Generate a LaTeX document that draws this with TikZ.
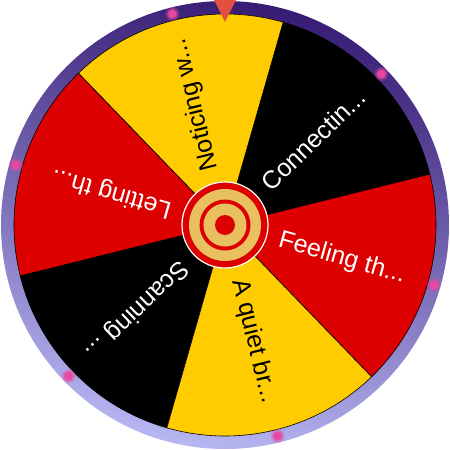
\documentclass[tikz,border=0pt]{standalone}
\usepackage{fontspec}
\setmainfont{Liberation Sans}
\usepackage{tikz}
\usetikzlibrary{calc}
\definecolor{wheelred}{RGB}{220,0,0}
\definecolor{wheelyellow}{RGB}{255,204,0}
\definecolor{rimdark}{RGB}{56,28,116}
\definecolor{rimmid}{RGB}{66,40,126}
\definecolor{rimlight}{RGB}{182,182,242}
\definecolor{hubgold}{RGB}{232,192,96}
\definecolor{pointerred}{RGB}{226,80,64}
\definecolor{glowpink}{RGB}{232,72,160}

\begin{document}
\begin{tikzpicture}[x=0.5pt, y=0.5pt,
  segtext/.style={anchor=west, inner sep=0pt, font=\fontsize{12.5}{13}\selectfont}]
  \useasboundingbox (-225,-225) rectangle (225,225);

  % Rim (shaded ring)
  \shade[top color=rimdark, middle color=rimmid, bottom color=rimlight, shading angle=-12]
    (0,0) circle (224);

  % Segments
  \foreach \ang/\col in {314/wheelred, 14/black, 74/wheelyellow,
                         134/wheelred, 194/black, 254/wheelyellow}
    \filldraw[fill=\col, draw=black, line width=0.3pt]
      (0,0) -- (\ang:211) arc[start angle=\ang, end angle=\ang+60, radius=211] -- cycle;

  % Glow dots on the rim
  \foreach \ang in {344, 44, 104, 164, 224, 284} {
    \fill[glowpink, opacity=0.3] (\ang:217.5) circle (7);
    \fill[glowpink, opacity=0.5] (\ang:217.5) circle (5.5);
    \fill[glowpink] (\ang:217.5) circle (4);
  }

  % Labels
  \node[segtext, white, rotate=344] (feel) at (344:56) {Feeling th...};
  \node[segtext, white, rotate=44]  (conn) at (44:56)  {Connectin...};
  \node[segtext, black, rotate=104] (noti) at (104:56) {Noticing w...};
  \node[segtext, white, rotate=164] (lett) at (164:56) {Letting th...};
  \node[segtext, white, rotate=224] (scan) at (224:56) {Scanning ...};
  \node[segtext, black, rotate=284] (quie) at (284:56) {A quiet br...};

  % Hub
  \filldraw[fill=wheelred, draw=white, line width=0.6pt] (0,0) circle (43);
  \fill[hubgold] (0,0) circle (36);
  \fill[wheelred] (0,0) circle (25.5);
  \fill[hubgold] (0,0) circle (21.5);
  \fill[wheelred] (0,0) circle (10);

  % Pointer
  \fill[pointerred] (-11,225) -- (11,225) -- (0,203) -- cycle;
\end{tikzpicture}
\end{document}
